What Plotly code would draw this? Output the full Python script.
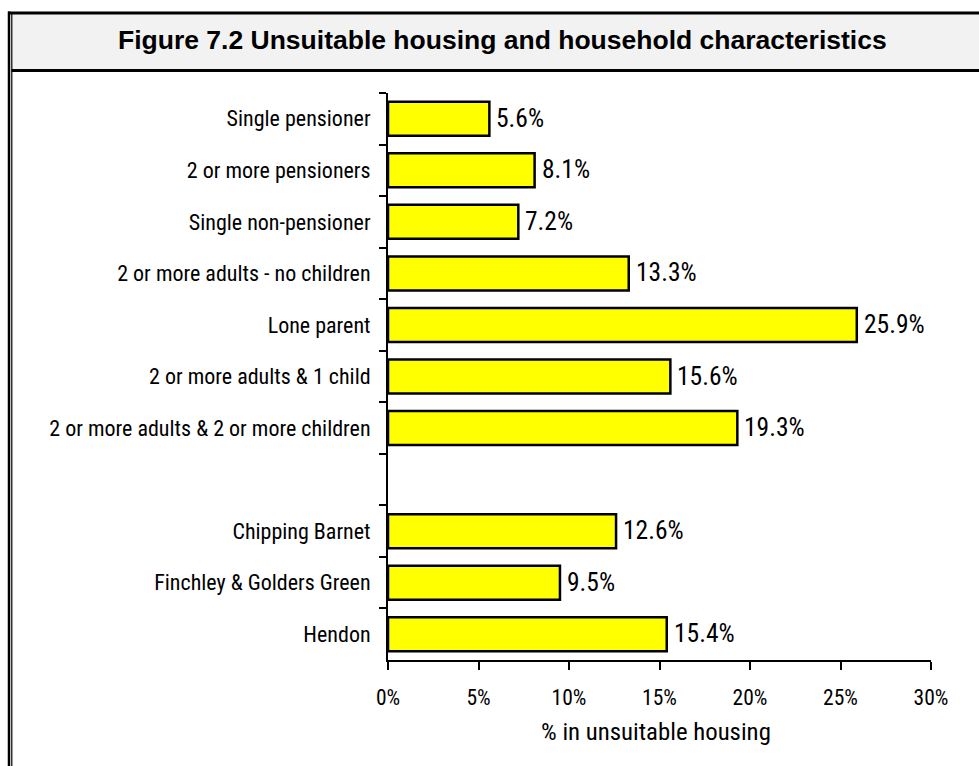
import plotly.graph_objects as go

# Household types and parliamentary constituencies, top to bottom
household_types = [
    "Single pensioner",
    "2 or more pensioners",
    "Single non-pensioner",
    "2 or more adults - no children",
    "Lone parent",
    "2 or more adults & 1 child",
    "2 or more adults & 2 or more children",
]
household_pct = [5.6, 8.1, 7.2, 13.3, 25.9, 15.6, 19.3]

constituencies = ["Chipping Barnet", "Finchley & Golders Green", "Hendon"]
constituency_pct = [12.6, 9.5, 15.4]

x_ticks = [0, 5, 10, 15, 20, 25, 30]
x_tick_labels = ["0%", "5%", "10%", "15%", "20%", "25%", "30%"]

# A blank slot separates the two groups
categories = household_types + [" "] + constituencies
values = household_pct + [None] + constituency_pct

W, H = 979, 766
L, R, T, B = 388, 48, 93, 106
PW, PH = W - L - R, H - T - B

FONT = "Liberation Sans Narrow, Arial Narrow, Roboto Condensed, DejaVu Sans Condensed, sans-serif"
TITLE_FONT = "Liberation Sans, Arial, Helvetica, sans-serif"


def px(x):
    return (x - L) / PW


def py(y):
    return 1 - (y - T) / PH


fig = go.Figure(
    go.Bar(
        x=values,
        y=categories,
        orientation="h",
        width=0.66,
        marker=dict(color="#ffff00", line=dict(color="black", width=2.5)),
        hoverinfo="skip",
    )
)

# Value labels at the end of each bar
annotations = []
for cat, v in zip(categories, values):
    if v is None:
        continue
    annotations.append(dict(
        x=v, y=cat, xref="x", yref="y", text=f"{v:.1f}%",
        showarrow=False, xanchor="left", xshift=5, yshift=1,
        font=dict(family=FONT, size=25.5, color="black"),
    ))

# Chart heading in the shaded band
annotations.append(dict(
    x=px(502), y=py(40), xref="paper", yref="paper",
    text="<b>Figure 7.2 Unsuitable housing and household characteristics</b>",
    showarrow=False, xanchor="center", yanchor="middle",
    font=dict(family=TITLE_FONT, size=26.5, color="black"),
))

# Horizontal axis caption
annotations.append(dict(
    x=px(656), y=py(731), xref="paper", yref="paper",
    text="% in unsuitable housing", showarrow=False,
    xanchor="center", yanchor="middle",
    font=dict(family=FONT, size=24.8, color="black"),
))

shapes = [
    # shaded heading band
    dict(type="rect", xref="paper", yref="paper",
         x0=px(11.5), x1=px(990), y0=py(13), y1=py(70.5),
         fillcolor="#f2f2f2", line=dict(width=0), layer="below"),
    # top frame line
    dict(type="line", xref="paper", yref="paper",
         x0=px(8), x1=px(990), y0=py(13), y1=py(13),
         line=dict(color="black", width=3)),
    # line under heading
    dict(type="line", xref="paper", yref="paper",
         x0=px(11.5), x1=px(990), y0=py(70.5), y1=py(70.5),
         line=dict(color="black", width=3)),
    # double left frame
    dict(type="line", xref="paper", yref="paper",
         x0=px(9), x1=px(9), y0=py(11.5), y1=py(780),
         line=dict(color="black", width=2.5)),
    dict(type="line", xref="paper", yref="paper",
         x0=px(11.8), x1=px(11.8), y0=py(13), y1=py(780),
         line=dict(color="black", width=1.2)),
]

fig.update_layout(
    width=W, height=H,
    margin=dict(l=L, r=R, t=T, b=B),
    paper_bgcolor="white", plot_bgcolor="white",
    showlegend=False,
    annotations=annotations,
    shapes=shapes,
    font=dict(family=FONT, size=22, color="black"),
    bargap=0.34,
)

fig.update_xaxes(
    range=[0, 30],
    tickvals=x_ticks, ticktext=x_tick_labels,
    ticks="outside", ticklen=8, tickwidth=2, tickcolor="black",
    showline=True, linecolor="black", linewidth=2,
    showgrid=False, zeroline=False,
    tickfont=dict(family=FONT, size=21.5, color="black"),
    ticklabelstandoff=9,
)

fig.update_yaxes(
    type="category", categoryorder="array", categoryarray=categories,
    autorange="reversed",
    tickson="boundaries",
    ticks="outside", ticklen=7, tickwidth=2, tickcolor="black",
    showline=True, linecolor="black", linewidth=2,
    showgrid=False, zeroline=False,
    tickfont=dict(family=FONT, size=22, color="black"),
    ticklabelstandoff=11,
)

fig.write_html("out.html")
